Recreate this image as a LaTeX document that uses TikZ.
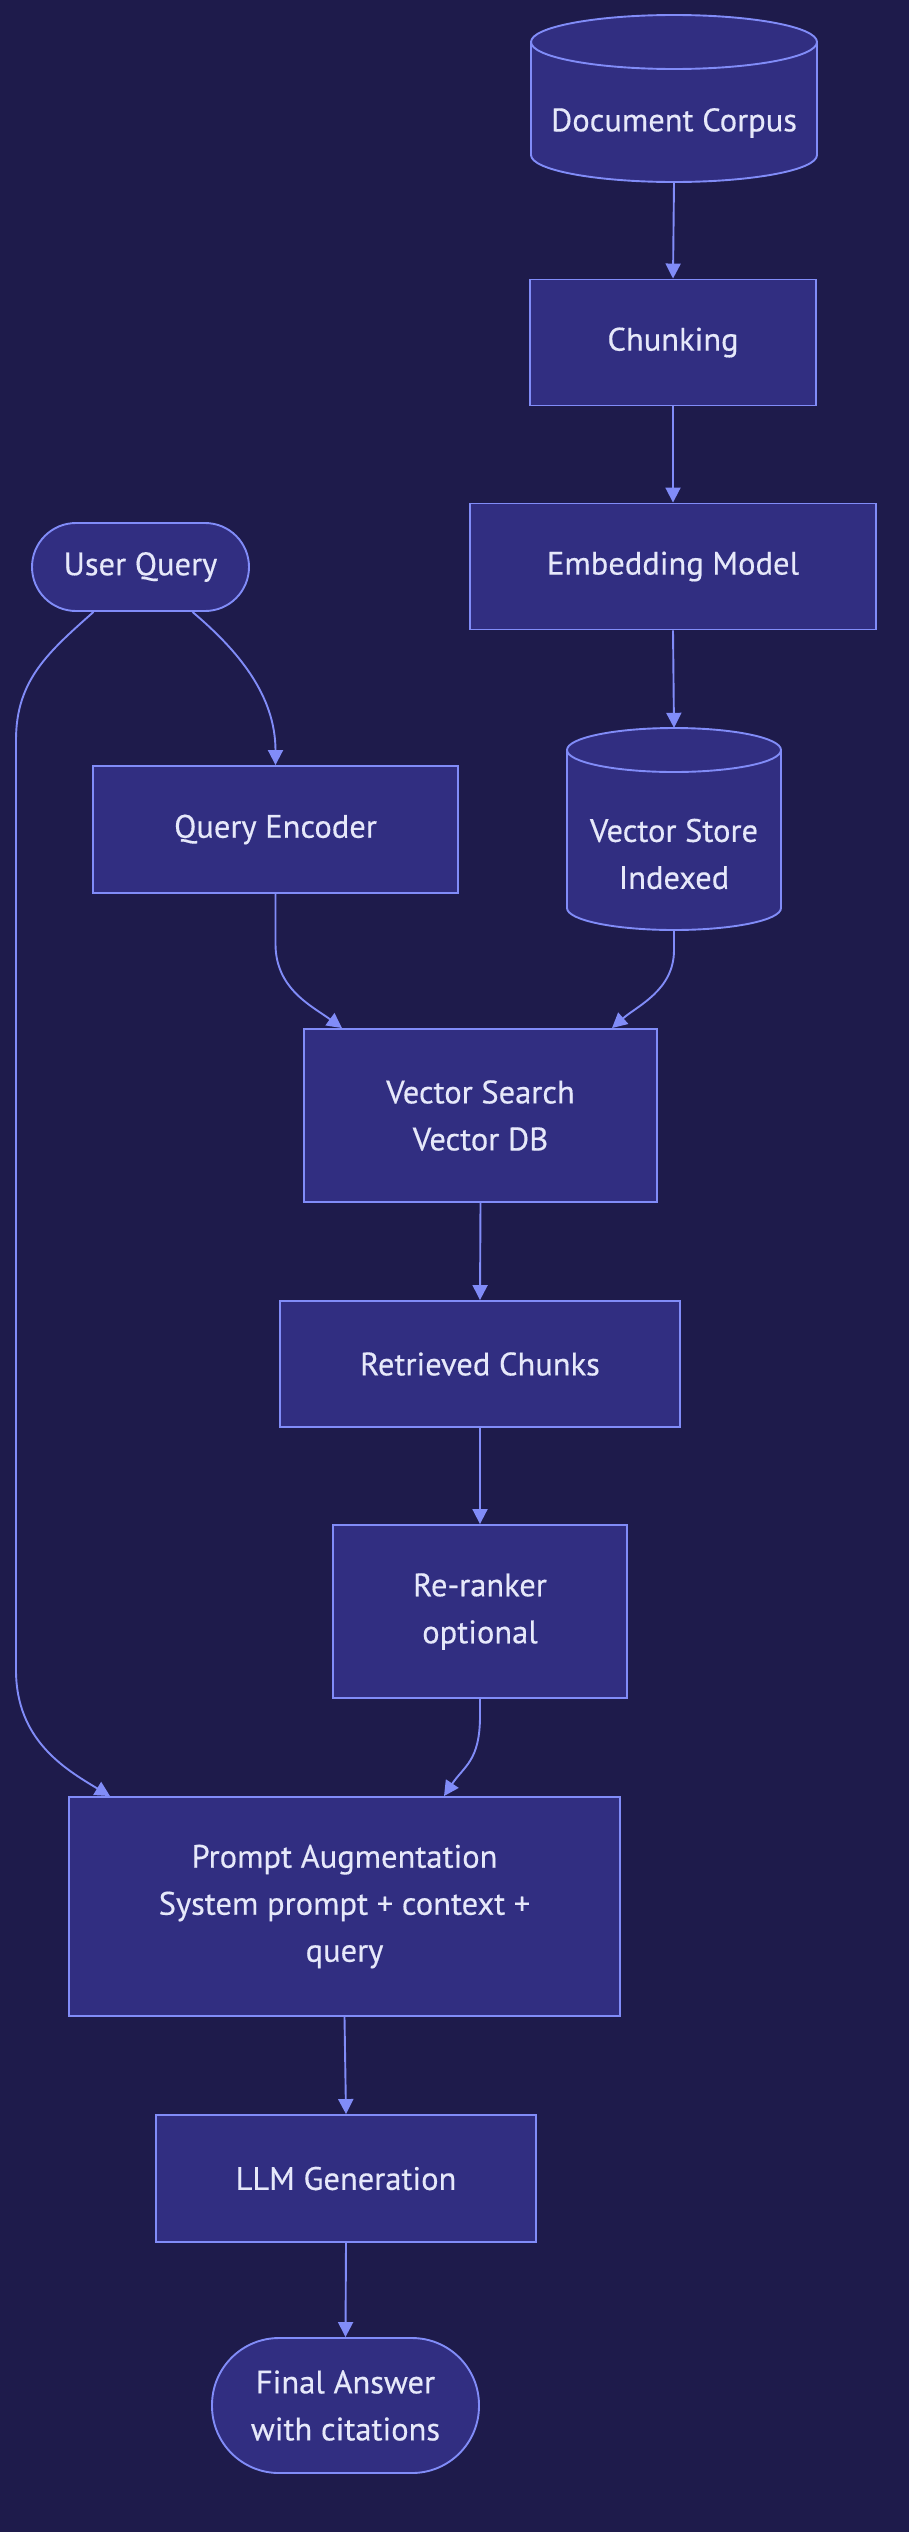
\documentclass[tikz,border=0pt]{standalone}
\usepackage{fontspec}
\setmainfont{PT Sans}
\newfontfamily\lblfont{PT Sans}[FakeBold=0.4]
\usetikzlibrary{arrows.meta,calc}
\definecolor{bg}{HTML}{1E1B4B}
\definecolor{nodefill}{HTML}{312E81}
\definecolor{strokec}{HTML}{818CF8}
\definecolor{txtc}{HTML}{E6E8FA}
\begin{document}
\begin{tikzpicture}[x=1pt,y=-1pt,
  lbl/.style={text=txtc, align=center, inner sep=0pt, font=\lblfont\fontsize{32.5}{47}\selectfont},
  box/.style={lbl, draw=strokec, fill=nodefill, line width=1.9pt},
  stad/.style={box, rounded corners=#1},
  cylbox/.style={lbl, draw=none},
  cylshape/.style={draw=strokec, fill=nodefill, line width=1.9pt},
  edge/.style={draw=strokec, line width=1.9pt, -{Triangle[length=15pt,width=15pt]}}
]
\useasboundingbox (0,0) rectangle (908,2532);
\fill[bg] (-2,-2) rectangle (910,2534);

% Document Corpus cylinder
\path[cylshape] (531,42) arc[start angle=180,end angle=0,x radius=143pt,y radius=27pt]
  -- (817,155) arc[start angle=0,end angle=-180,x radius=143pt,y radius=27pt] -- cycle;
\draw[strokec, line width=1.9pt] (531,42) arc[start angle=180,end angle=360,x radius=143pt,y radius=27pt];
\node[cylbox, minimum width=286pt, minimum height=167pt,
  label={[lbl, yshift=-24.5pt]center:Document Corpus}] (dc) at (674,98.5) {};

% Vector Store cylinder
\path[cylshape] (567,750) arc[start angle=180,end angle=0,x radius=107pt,y radius=22pt]
  -- (781,908) arc[start angle=0,end angle=-180,x radius=107pt,y radius=22pt] -- cycle;
\draw[strokec, line width=1.9pt] (567,750) arc[start angle=180,end angle=360,x radius=107pt,y radius=22pt];
\node[cylbox, minimum width=214pt, minimum height=202pt,
  label={[lbl, yshift=-25pt]center:Vector Store\\Indexed}] (vs) at (674,829) {};

\node[box, minimum width=286pt, minimum height=126pt] (ch) at (673,342.5) {Chunking};
\node[box, minimum width=406pt, minimum height=126pt] (em) at (673,566.5) {Embedding Model};
\node[stad=44pt, minimum width=217pt, minimum height=88pt] (uq) at (140.5,567) {User Query};
\node[box, minimum width=365pt, minimum height=127pt] (qe) at (275.5,829.5) {Query Encoder};
\node[box, minimum width=353pt, minimum height=173pt] (vsr) at (480.5,1115.5) {Vector Search\\Vector DB};
\node[box, minimum width=400pt, minimum height=126pt] (rc) at (480,1364) {Retrieved Chunks};
\node[box, minimum width=294pt, minimum height=173pt] (rr) at (480,1611.5) {Re-ranker\\optional};
\node[box, minimum width=551pt, minimum height=219pt] (pa) at (344.5,1906.5) {Prompt Augmentation\\System prompt + context +\\query};
\node[box, minimum width=380pt, minimum height=127pt] (llm) at (346,2178.5) {LLM Generation};
\node[stad=67pt, minimum width=267pt, minimum height=135pt] (fa) at (345.5,2405.5) {Final Answer\\with citations};

\coordinate (lane1) at (16,740);
\coordinate (lane2) at (16,1670);

\draw[edge] (dc.south) -- (ch.north);
\draw[edge] (ch.south) -- (em.north);
\draw[edge] (em.south) -- (vs.north);
\draw[edge] ($(uq.south)+(52,0)$) .. controls +(45,38) and +(0,-70) .. (qe.north);
\draw[edge] ($(uq.south)+(-47,0)$) .. controls +(-45,40) and +(0,-60) .. (lane1)
  -- (lane2) .. controls +(0,70) and +(-45,-27) .. ($(pa.north)+(-234.5,0)$);
\draw[edge] (qe.south) -- ++(0,50) .. controls +(0,45) and +(-30,-22) .. ($(vsr.north)+(-138.5,0)$);
\draw[edge] (vs.south) -- ++(0,20) .. controls +(0,40) and +(25,-22) .. ($(vsr.north)+(131.5,0)$);
\draw[edge] (vsr.south) -- (rc.north);
\draw[edge] (rc.south) -- (rr.north);
\draw[edge] (rr.south) -- ++(0,17) .. controls +(0,45) and +(20,-30) .. ($(pa.north)+(99.5,0)$);
\draw[edge] (pa.south) -- (llm.north);
\draw[edge] (llm.south) -- (fa.north);
\end{tikzpicture}
\end{document}
